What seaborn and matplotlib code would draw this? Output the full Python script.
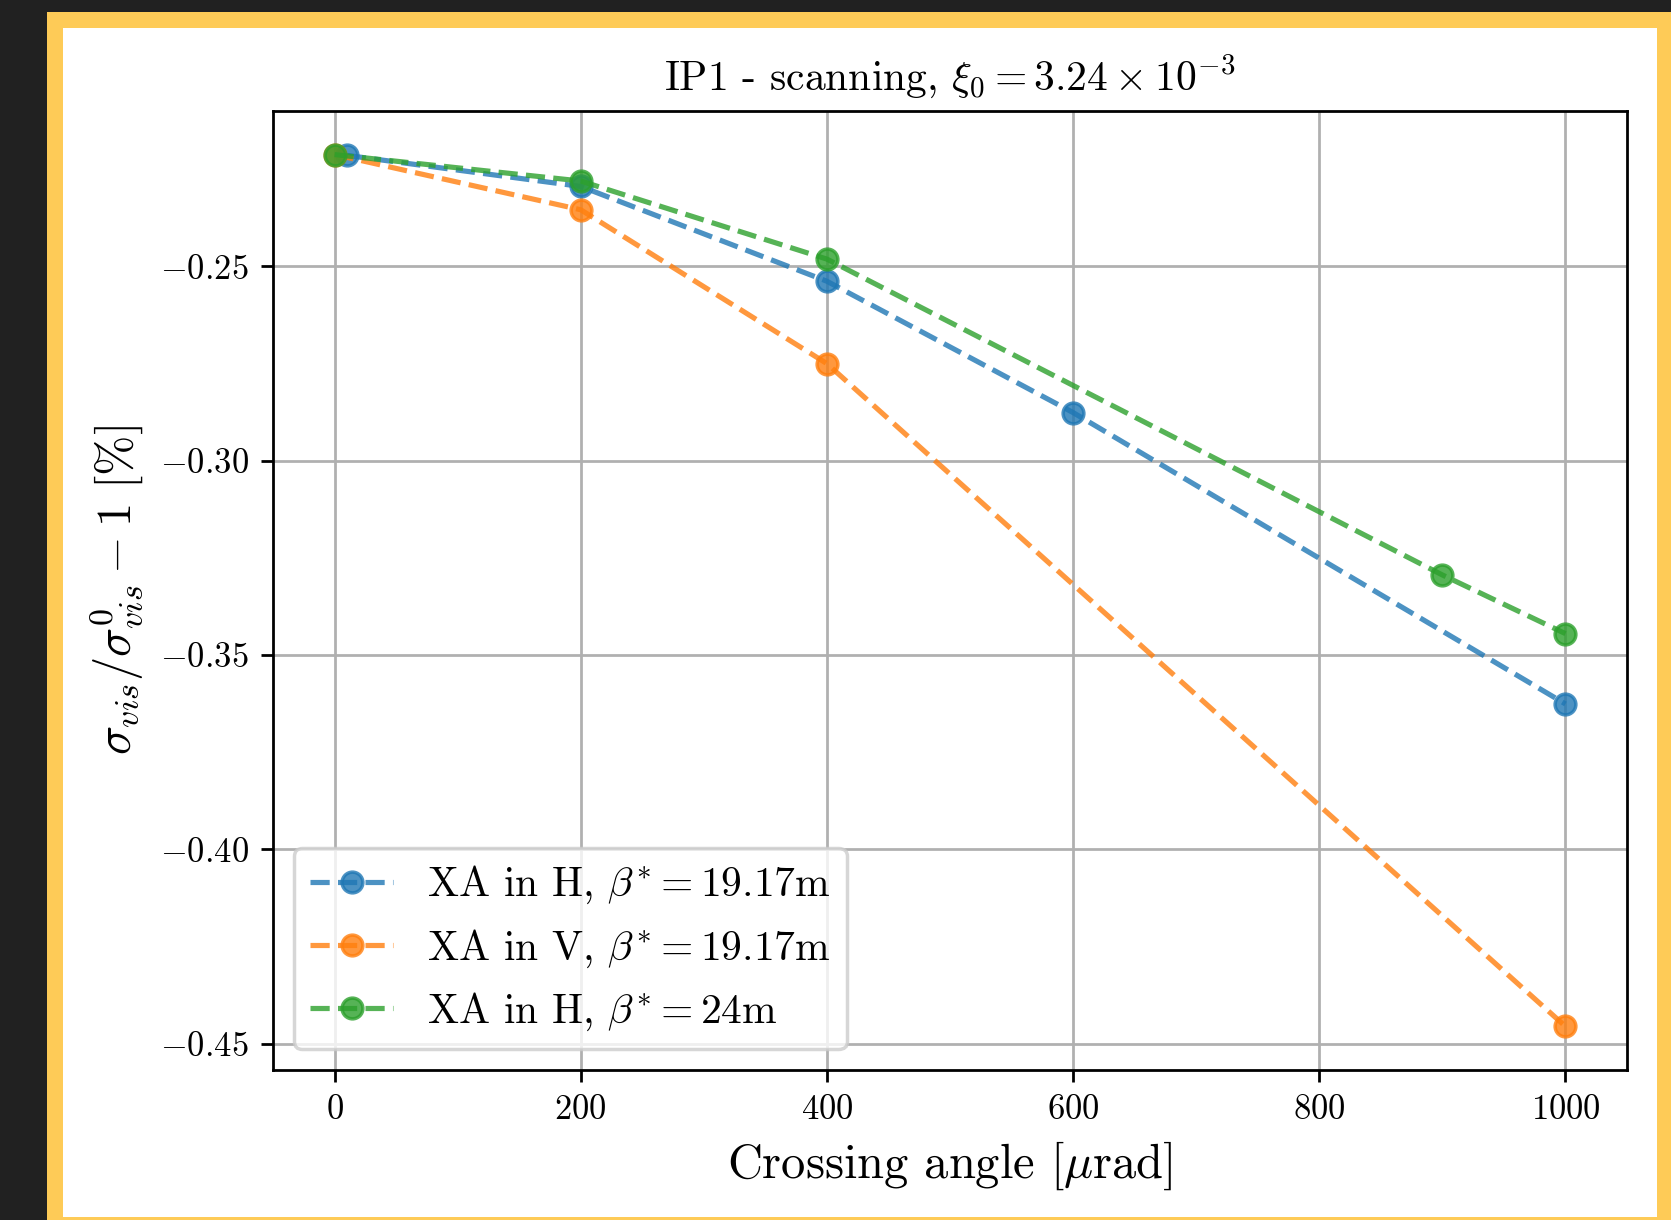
import matplotlib
matplotlib.use("Agg")
import matplotlib.pyplot as plt
from matplotlib.patches import Rectangle
import seaborn as sns
import pandas as pd

# ---- data ----
blue_x = [10, 200, 400, 600, 1000]
blue_y = [-0.2214, -0.2294, -0.2538, -0.2876, -0.3626]
orange_x = [0, 200, 400, 1000]
orange_y = [-0.2212, -0.2354, -0.2750, -0.4456]
green_x = [0, 200, 400, 900, 1000]
green_y = [-0.2212, -0.2280, -0.2481, -0.3294, -0.3445]
labels = [r"XA in H, $\beta^{*} = 19.17$m",
          r"XA in V, $\beta^{*} = 19.17$m",
          r"XA in H, $\beta^{*} = 24$m"]
colors = ["#1f77b4", "#ff7f0e", "#2ca02c"]
title = r"IP1 - scanning, $\xi_0 = 3.24 \times 10^{-3}$"
xlabel = r"Crossing angle [$\mu$rad]"
ylabel = r"$\sigma_{vis}/\sigma_{vis}^{0} - 1\ [\%]$"
xticks = [0, 200, 400, 600, 800, 1000]
yticks = [-0.25, -0.30, -0.35, -0.40, -0.45]

plt.rcParams["font.family"] = "serif"
plt.rcParams["font.serif"] = ["cmr10"]
plt.rcParams["mathtext.fontset"] = "cm"
plt.rcParams["axes.formatter.use_mathtext"] = True
plt.rcParams["axes.unicode_minus"] = True

DPI = 249
fig = plt.figure(figsize=(1671 / DPI, 1220 / DPI), dpi=DPI, facecolor="#212121")
# page frame
fig.patches.append(Rectangle((47 / 1671, 0), 1 - 47 / 1671, (1220 - 12) / 1220,
                             transform=fig.transFigure, facecolor="#FECB57",
                             edgecolor="none", zorder=-10))
fig.patches.append(Rectangle((63 / 1671, 3 / 1220), (1657 - 63) / 1671, (1217 - 28) / 1220,
                             transform=fig.transFigure, facecolor="white",
                             edgecolor="none", zorder=-9))

ax = fig.add_axes([273 / 1671, 150 / 1220, (1627 - 273) / 1671, (1070 - 111) / 1220])

series = [(blue_x, blue_y), (orange_x, orange_y), (green_x, green_y)]
for (xs, ys), lab, col in zip(series, labels, colors):
    df = pd.DataFrame({"x": xs, "y": ys})
    sns.lineplot(data=df, x="x", y="y", ax=ax, color=col, marker="o", linestyle="--",
                 alpha=0.8, markersize=6, markeredgecolor=col, markeredgewidth=1,
                 linewidth=1.5, label=lab)

ax.set_xticks(xticks)
ax.set_yticks(yticks)
ax.grid(True, color="#b0b0b0", linewidth=0.8)
ax.set_axisbelow(True)
ax.set_title(title, fontsize=12)
ax.set_xlabel(xlabel, fontsize=14)
ax.set_ylabel(ylabel, fontsize=14)
ax.tick_params(labelsize=10)
ax.legend(loc="lower left", fontsize=12)

fig.savefig("out.png", dpi=DPI, facecolor=fig.get_facecolor())
